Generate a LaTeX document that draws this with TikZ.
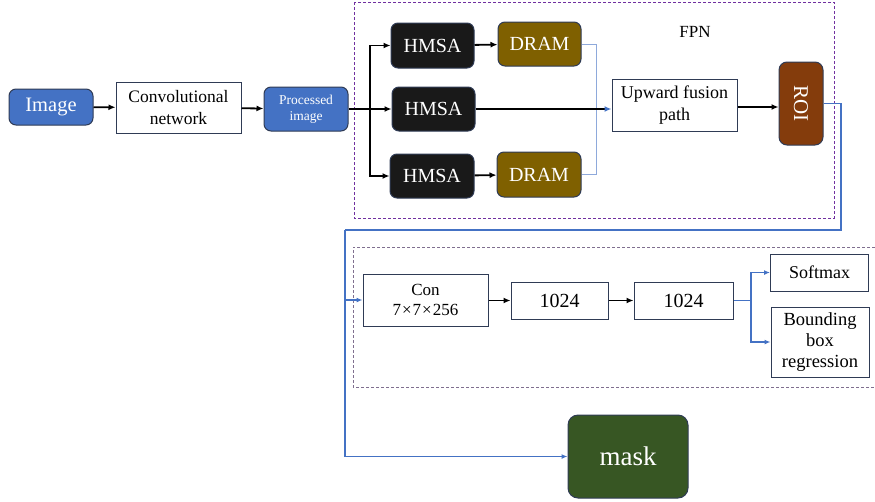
\documentclass[tikz,border=0pt]{standalone}
\usepackage{fontspec}
\setmainfont{Liberation Serif}
\usetikzlibrary{arrows.meta}
\definecolor{accent}{HTML}{4472C4}
\definecolor{navy}{HTML}{2F3B55}
\definecolor{olive}{HTML}{7F6000}
\definecolor{rust}{HTML}{843C0C}
\definecolor{leaf}{HTML}{375623}
\definecolor{violet}{HTML}{7030A0}
\definecolor{mauve}{HTML}{7F6F8F}
\definecolor{pale}{HTML}{8EA9DB}
% font size and line spacing, in pt
\newcommand{\fs}[2]{\fontsize{#1}{#2}\selectfont}
\tikzset{
  box/.style={draw=navy, line width=1pt, align=center, inner sep=0pt},
  plain/.style={box, fill=white, text=black},
  bluebox/.style={box, fill=accent, rounded corners=7pt, text=white},
  darkbox/.style={box, fill=black!90, rounded corners=7pt, text=white!95},
  olivebox/.style={box, fill=olive, rounded corners=7pt, text=white!92},
  arr/.style={line width=1.8pt, -{Latex[length=7pt,width=6pt]}},
  bline/.style={accent, line width=1.8pt},
  barr/.style={bline, -{Latex[length=6pt,width=5pt]}},
  frame/.style={line width=0.9pt, dash pattern=on 3pt off 2pt},
}
\begin{document}
\begin{tikzpicture}[x=1pt,y=-1pt]
\useasboundingbox (0,0) rectangle (875,501);

% dashed group frames
\draw[frame, violet] (354,2) rectangle (834,218);
\draw[frame, mauve] (880,247) -- (353,247) -- (353,387) -- (880,387);
\node[font=\fs{17}{20}] (fpn) at (695,32) {FPN};

% input stage
\node[bluebox, minimum width=84pt, minimum height=36pt, font=\fs{20.5}{24}] (img) at (51,107) {Image};
\node[plain, minimum width=125pt, minimum height=51pt, font=\fs{17.5}{22}] (conv) at (178.5,107.5) {Convolutional\\network};
\node[bluebox, minimum width=84pt, minimum height=44pt, font=\fs{13.5}{16}] (proc) at (306,109) {Processed\\image};

% attention branches
\node[darkbox, minimum width=83pt, minimum height=45pt, font=\fs{20}{22}] (h1) at (432.5,45.5) {HMSA};
\node[olivebox, minimum width=83pt, minimum height=44pt, font=\fs{20}{22}] (d1) at (539.5,44) {DRAM};
\node[darkbox, minimum width=83pt, minimum height=44pt, font=\fs{20}{22}] (h2) at (433.5,109) {HMSA};
\node[darkbox, minimum width=84pt, minimum height=44pt, font=\fs{20}{22}] (h3) at (432,176) {HMSA};
\node[olivebox, minimum width=84pt, minimum height=45pt, font=\fs{20}{22}] (d3) at (539,174.5) {DRAM};

\node[plain, minimum width=125pt, minimum height=52pt, font=\fs{18}{22}] (up) at (674.5,105) {Upward fusion\\path};
\node[box, fill=rust, rounded corners=8pt, minimum width=44pt, minimum height=83pt, text=white, font=\fs{21}{24}] (roi) at (801,103.5) {\rotatebox{-90}{ROI}};

% head
\node[plain, minimum width=125pt, minimum height=52pt, font=\fs{17}{20}] (con) at (425.5,300) {Con\\7\kern1pt×\kern1pt7\kern1pt×\kern1pt256};
\node[plain, minimum width=97pt, minimum height=37pt, font=\fs{20}{22}] (fa) at (559.5,300.5) {1024};
\node[plain, minimum width=99pt, minimum height=37pt, font=\fs{20}{22}] (fb) at (683.5,300.5) {1024};
\node[plain, minimum width=98pt, minimum height=37pt, font=\fs{18}{20}] (soft) at (819.5,272.5) {Softmax};
\node[plain, minimum width=98pt, minimum height=70pt, font=\fs{18.5}{21}] (bbr) at (820,342) {Bounding\\box\\regression};
\node[box, fill=leaf, rounded corners=10pt, minimum width=120pt, minimum height=83pt, text=white, font=\fs{27}{30}] (mask) at (628,456.5) {mask};

% connectors
\coordinate (split) at (370,109);
\coordinate (merge) at (596,44);
\coordinate (turn) at (841,230);
\coordinate (back) at (345,230);
\coordinate (tap) at (345,300);
\coordinate (fork) at (751,300.5);

\draw[arr] (img) -- (conv);
\draw[arr] (conv) -- (proc);
\draw[line width=1.8pt] (proc.east) -- (split);
\draw[arr] (split) |- (h1.west);
\draw[arr] (split) -- (h2.west);
\draw[arr] (split) |- (h3.west);
\draw[arr] (h1) -- (d1);
\draw[arr] (h3) -- (d3);
\draw[pale, line width=0.9pt] (d1.east) -- (merge) |- (d3.east);
\draw[line width=1.8pt, -{Latex[length=7pt,width=6pt,color=accent]}] (h2.east) -- (up.west |- h2.east);
\draw[arr] (up.east |- 0,107) -- (roi.west |- 0,107);

\draw[bline] (roi.east) -| (turn) -- (back);
\draw[barr] (back) |- (mask.west);
\draw[barr] (tap) -- (con.west);

\draw[arr] (con.east |- fa.west) -- (fa.west);
\draw[arr] (fa) -- (fb);
\draw[bline] (fb.east) -- (fork);
\draw[barr] (fork) |- (soft.west);
\draw[barr] (fork) |- (bbr.west);
\end{tikzpicture}
\end{document}
